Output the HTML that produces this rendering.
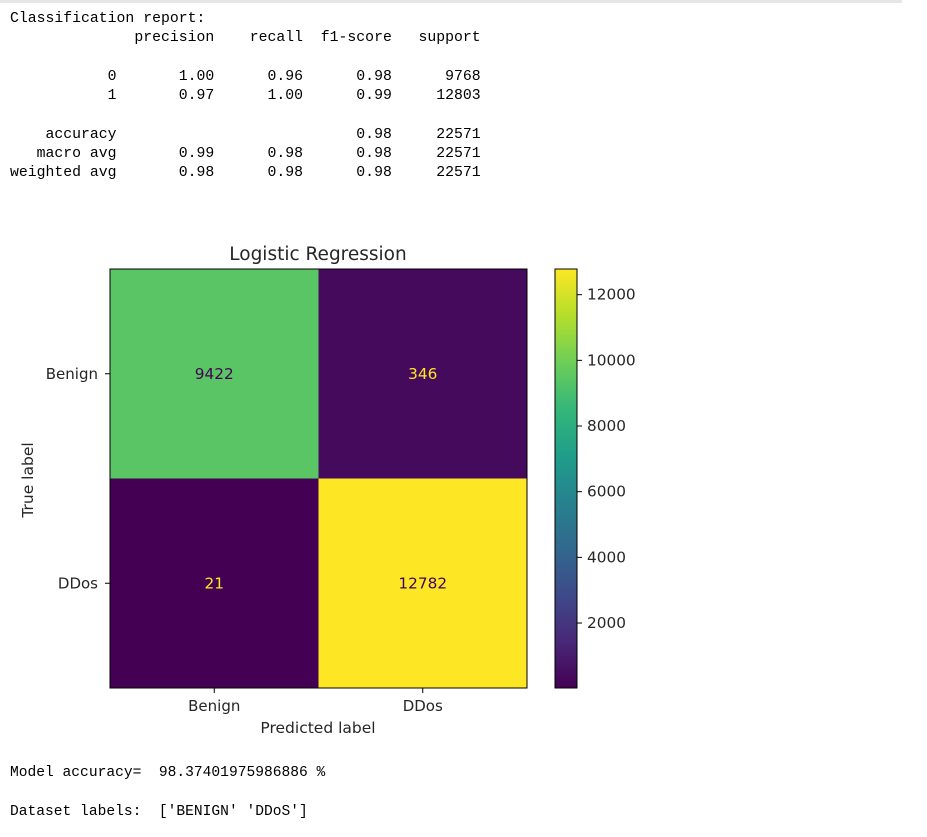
<!DOCTYPE html>
<html><head><meta charset="utf-8"><style>
body{margin:0;background:#fff;width:927px;height:837px;overflow:hidden;position:relative}
.topline{position:absolute;left:0;top:0;width:902px;height:3px;background:#e6e6e6}
pre{position:absolute;left:10px;margin:0;font-family:"Liberation Mono",monospace;font-size:14.8px;line-height:19.3px;color:#000}
svg{position:absolute;left:0;top:0}
svg text{font-family:"DejaVu Sans","Liberation Sans",sans-serif;fill:#262626}
</style></head><body>
<div class="topline"></div>
<pre style="top:10px">Classification report:
              precision    recall  f1-score   support

           0       1.00      0.96      0.98      9768
           1       0.97      1.00      0.99     12803

    accuracy                           0.98     22571
   macro avg       0.99      0.98      0.98     22571
weighted avg       0.98      0.98      0.98     22571</pre>
<svg id="chart" width="927" height="837">
<defs><linearGradient id="vir" x1="0" y1="1" x2="0" y2="0">
</linearGradient></defs>
</svg>
<pre style="top:764px;font-size:14.6px">Model accuracy=  98.37401975986886 %</pre>
<pre style="top:803px;font-size:14.6px">Dataset labels:  ['BENIGN' 'DDoS']</pre>
<script>
const categories = ['Benign','DDos'];
const matrixValues = [[9422,346],[21,12782]];
const colorbarTicks = [2000,4000,6000,8000,10000,12000];
const NS='http://www.w3.org/2000/svg';
const svg=document.getElementById('chart');
const V=[[68,1,84],[72,40,120],[62,74,137],[49,104,142],[38,130,142],[31,158,137],[53,183,121],[110,206,88],[181,222,43],[253,231,37]];
function viridis(t){t=Math.max(0,Math.min(1,t));const p=t*9,i=Math.min(8,Math.floor(p)),f=p-i;const c=V[i].map((v,k)=>Math.round(v+(V[i+1][k]-v)*f));return `rgb(${c})`;}
function mk(tag,attrs,parent){const e=document.createElementNS(NS,tag);for(const k in attrs)e.setAttribute(k,attrs[k]);(parent||svg).appendChild(e);return e;}
const flat=matrixValues.flat();const vmin=Math.min(...flat),vmax=Math.max(...flat);
const X0=110,Y0=269,W=417,H=419,n=categories.length,cw=W/n,ch=H/n;
const xPos=j=>X0+cw*(j+0.5), yPos=i=>Y0+ch*(i+0.5);
const grad=document.getElementById('vir');
for(let k=0;k<=9;k++){mk('stop',{offset:(k/9),'stop-color':viridis(k/9)},grad);}
matrixValues.forEach((row,i)=>row.forEach((v,j)=>{
 const t=(v-vmin)/(vmax-vmin);
 const r=mk('rect',{x:X0+cw*j,y:Y0+ch*i,width:cw,height:ch,fill:viridis(t)});
 
 
 const tx=mk('text',{x:xPos(j),y:yPos(i)+5,'text-anchor':'middle','font-size':'15.3'});
 tx.textContent=v;tx.style.fill=t<0.5?viridis(1):viridis(0);
 
 
}));
const fr=mk('rect',{x:X0,y:Y0,width:W,height:H,fill:'none',stroke:'#000','stroke-width':1});


categories.forEach((c,j)=>{
 mk('line',{x1:xPos(j),x2:xPos(j),y1:Y0+H,y2:Y0+H+5,stroke:'#000'});
 const t=mk('text',{x:xPos(j),y:Y0+H+23,'text-anchor':'middle','font-size':'15'});t.textContent=c;
 
 
 mk('line',{x1:X0-5,x2:X0,y1:yPos(j),y2:yPos(j),stroke:'#000'});
 const u=mk('text',{x:X0-12,y:yPos(j)+5,'text-anchor':'end','font-size':'15'});u.textContent=c;
 
 
});
let t=mk('text',{x:318,y:260,'text-anchor':'middle','font-size':'18.5'});t.textContent='Logistic Regression';


t=mk('text',{x:318,y:733,'text-anchor':'middle','font-size':'15.5'});t.textContent='Predicted label';


t=mk('text',{x:33,y:480,'text-anchor':'middle','font-size':'15.5',transform:'rotate(-90 33 480)'});t.textContent='True label';


const CX=555,CW=22;
const cb=mk('rect',{x:CX,y:Y0,width:CW,height:H,fill:'url(#vir)',stroke:'#000','stroke-width':1});


const cy=v=>Y0+H-(v-vmin)/(vmax-vmin)*H;
colorbarTicks.forEach(v=>{
 mk('line',{x1:CX+CW,x2:CX+CW+5,y1:cy(v),y2:cy(v),stroke:'#000'});
 const l=mk('text',{x:CX+CW+10,y:cy(v)+5,'font-size':'15.3'});l.textContent=v;
 
 
});
</script>
</body></html>
